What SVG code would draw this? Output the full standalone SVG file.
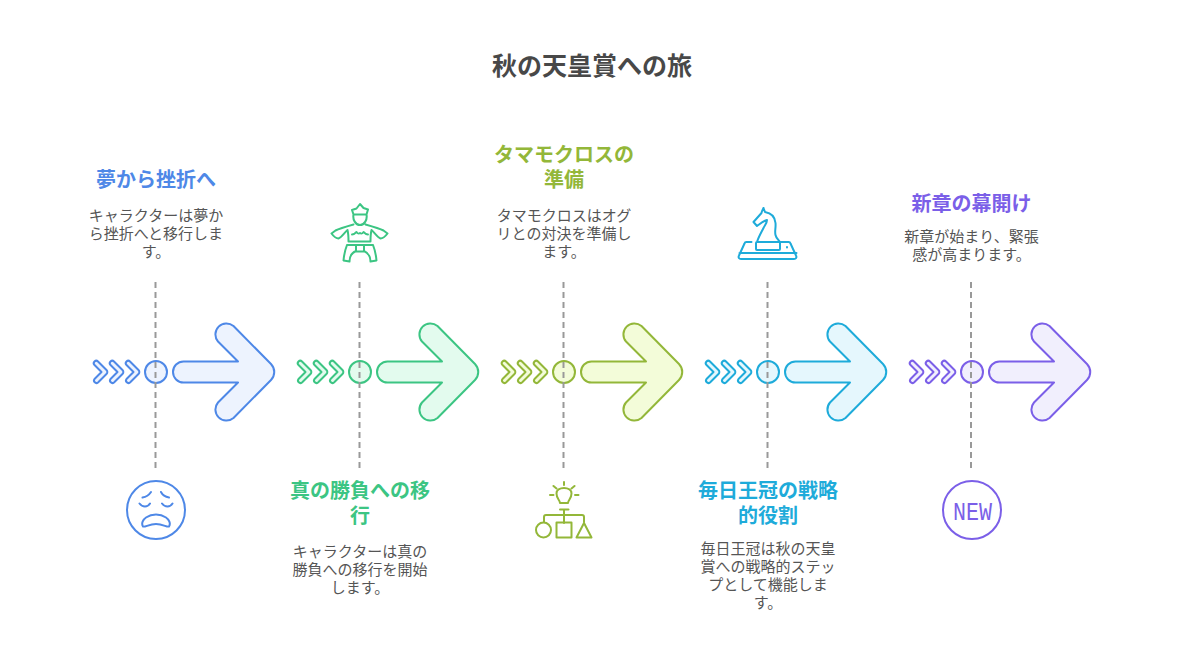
<svg xmlns="http://www.w3.org/2000/svg" width="1184" height="672" viewBox="0 0 1184 672">
<style>
text{font-family:"Noto Sans CJK JP","Noto Sans",sans-serif;text-anchor:middle}
.t{font-size:25px;font-weight:700;fill:#484848}
.h{font-size:20px;font-weight:700}
.d{font-size:15px;fill:#555}
.s{fill:none;stroke-width:2;stroke-linecap:round;stroke-linejoin:round}
.a{stroke-width:2;stroke-linejoin:round}
.v{stroke:#999;stroke-width:2;stroke-dasharray:6 4;fill:none}
.blue .s{stroke:#4e88e7}.blue use{stroke:#4e88e7;fill:#edf3fe}.blue .h{fill:#4e88e7}
.green .s{stroke:#3cc583}.green use{stroke:#3cc583;fill:#e3fbee}.green .h{fill:#3cc583}
.olive .s{stroke:#93b739}.olive use{stroke:#93b739;fill:#f3fcd9}.olive .h{fill:#93b739}
.cyan .s{stroke:#1eabda}.cyan use{stroke:#1eabda;fill:#e5f7fd}.cyan .h{fill:#1eabda}
.purple .s{stroke:#7b5fe8}.purple use{stroke:#7b5fe8;fill:#f1effd}.purple .h,.purple .n{fill:#7b5fe8}
.n{font-family:"Liberation Mono",monospace;font-size:26px}
</style>
<defs>
<path id="c" class="a" d="M94.500 361.500a2.500 2.500 0 0 1 3.500 0L106.500 370a2.800 2.800 0 0 1 0 4L98 382.500a2.500 2.500 0 0 1-3.500-3.500L101.500 372 94.500 365a2.500 2.500 0 0 1 0-3.500Z"/>
<g id="flow">
<use href="#c"/>
<use href="#c" x="16"/>
<use href="#c" x="32"/>
<circle class="a" cx="156" cy="372" r="11"/>
<path class="a" d="M183.500 361.500H238L218 341.500A11 11 0 0 1 233.500 326L271 364A11.500 11.500 0 0 1 271 380L233.500 418A11 11 0 0 1 218 402.500L238 382.500H183.500A10.500 10.500 0 0 1 183.500 361.500Z"/>
</g>
</defs>
<text class="t" x="592" y="74.500">秋の天皇賞への旅</text>
<g id="node-1" class="blue">
<use href="#flow"/>
<text class="h" x="156" y="187">夢から挫折へ</text>
<text class="d" x="156" y="220.500">キャラクターは夢か</text>
<text class="d" x="156" y="238.500">ら挫折へと移行しま</text>
<text class="d" x="156" y="256.500">す。</text>
<circle class="s" cx="156" cy="510" r="29"/>
<path class="s" d="M151 492c-2 3-5 5-8.500 5.500M161 492c1.500 3 4.500 5 8 5.500M139.500 503.500c3 4 8 4 10.500 0M162 503.500c3 4 8 4 10.500 0M143 526.500c-2-3 0-7 3-9 6-4 14-4 20 0 3 2 5 6 3 9-2 1-6-2.500-13-2.500s-11 3.500-13 2.500Z"/>
</g>
<g id="node-2" class="green">
<use href="#flow" x="204"/>
<text class="h" x="360" y="498">真の勝負への移</text>
<text class="h" x="360" y="523">行</text>
<text class="d" x="360" y="556.500">キャラクターは真の</text>
<text class="d" x="360" y="574.500">勝負への移行を開始</text>
<text class="d" x="360" y="592.500">します。</text>
<path class="s" d="M353.500 214.500l-1.500-4.500 4.500-1.500 3.500-4.500 3.500 4 4.500 1.500-1.500 5ZM353.500 214.500c-1 5 2 10.500 6.500 10.500s7.500-5.500 6.500-10.500M353.500 224.500c-7 2-14 4-18 6l-4 3c1.500 2 5 5 7 5 3-1 6-6 9-8.500 1 4 1 8 1 11.500h22c0-3.500 0-7.500 1-11.500 3 2.500 6 7.500 9 8.500 2 0 5.500-3 7-5l-4-3c-4-2-11-4-18-6M352 234.500c2 0 3-1 4.500-2.500 1.500 2 2 2 3.500 1 1.500 1 2 1 3.500-1 1.500 1.500 2.500 2.500 4.500 2.500M347 245h26M347 245c-2 5-3 10-3.500 15.500l6 1c0-6 2-8.500 6.500-10.500v-6M373 245c2 5 3 10 3.500 15.500l-6 1c0-6-2-8.500-6.500-10.500v-6M356 251.500h8"/>
</g>
<g id="node-3" class="olive">
<use href="#flow" x="408"/>
<text class="h" x="564" y="162">タマモクロスの</text>
<text class="h" x="564" y="187">準備</text>
<text class="d" x="564" y="220.500">タマモクロスはオグ</text>
<text class="d" x="564" y="238.500">リとの対決を準備し</text>
<text class="d" x="564" y="256.500">ます。</text>
<path class="s" d="M564 482v3M553.500 486l3 2.500M574.500 486l-3 2.500M550 495h3.500M575 495h3.500M560 503c0-3-3.500-4-3.500-9.500 0-3.500 3.500-5.500 7.500-5.500s7.500 2 7.500 5.500c0 5.500-3.500 6.500-3.500 9.500ZM560 509.500h8.500M564 510v13M544 522v-5a2 2 0 0 1 2-2h36a2 2 0 0 1 2 2v5"/>
<circle class="s" cx="543.500" cy="530" r="7.500"/>
<rect class="s" x="556.500" y="522.500" width="15" height="15"/>
<path class="s" d="M584 523L591.500 537.500H576.500Z"/>
</g>
<g id="node-4" class="cyan">
<use href="#flow" x="612"/>
<text class="h" x="768" y="498">毎日王冠の戦略</text>
<text class="h" x="768" y="523">的役割</text>
<text class="d" x="768" y="553.500">毎日王冠は秋の天皇</text>
<text class="d" x="768" y="571.500">賞への戦略的ステッ</text>
<text class="d" x="768" y="589.500">プとして機能しま</text>
<text class="d" x="768" y="607.500">す。</text>
<path class="s" d="M763.500 208l1.500 4c6 1 10 5 10.500 11 .5 5-1 8 0 12 .5 3 3 5 4.500 7M763.500 208c-1 2-2 4-2 5l-8 9 3.500 4c3-2 6-5 10-6 0 3-2 5-3.500 8-2 4-5 9-6.500 14M757 242h22a1 1 0 0 1 1 1v6a1 1 0 0 1-1 1h-22a1 1 0 0 1-1-1v-6a1 1 0 0 1 1-1ZM751.500 242h-5a2 2 0 0 0-2 1.500l-5.500 12c-1 2 0 3.500 2 3.500h53c2 0 3-1.500 2-3.500l-5.500-12a2 2 0 0 0-2-1.500h-9M739.500 253h57M787 247v.500"/>
</g>
<g id="node-5" class="purple">
<use href="#flow" x="816"/>
<text class="h" x="971.500" y="211">新章の幕開け</text>
<text class="d" x="971.500" y="241.500">新章が始まり、緊張</text>
<text class="d" x="971.500" y="259.500">感が高まります。</text>
<circle class="s" cx="972" cy="510" r="29"/>
<text class="n" x="972.500" y="520" textLength="39" lengthAdjust="spacingAndGlyphs">NEW</text>
</g>
<g id="connectors">
<path class="v" d="M155.500 282V470"/>
<path class="v" d="M359.500 282V470"/>
<path class="v" d="M563.500 282V470"/>
<path class="v" d="M767.500 282V470"/>
<path class="v" d="M971 282V470"/>
</g>
</svg>
